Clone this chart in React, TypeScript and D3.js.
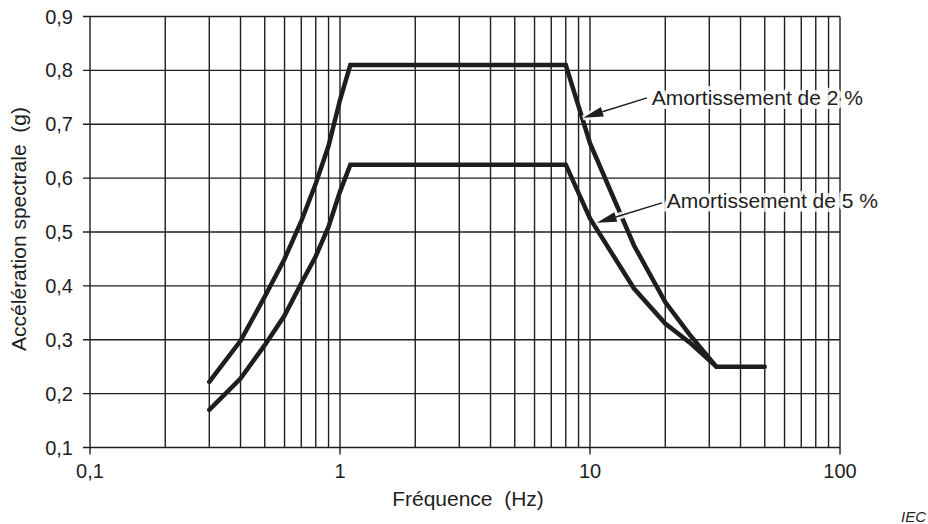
import React from "react";
import * as d3 from "d3";

// Data
const freq2 = [0.3, 0.4, 0.5, 0.6, 0.7, 0.8, 0.9, 1.0, 1.1, 8, 10, 15, 20, 25, 32, 50];
const accel2 = [0.222, 0.298, 0.38, 0.45, 0.52, 0.59, 0.66, 0.745, 0.81, 0.81, 0.665, 0.475, 0.37, 0.31, 0.25, 0.25];
const freq5 = [0.3, 0.4, 0.5, 0.6, 0.7, 0.8, 0.9, 1.0, 1.1, 8, 10, 15, 20, 25, 32];
const accel5 = [0.17, 0.228, 0.29, 0.345, 0.405, 0.455, 0.51, 0.575, 0.625, 0.625, 0.525, 0.395, 0.33, 0.295, 0.25];
const yTicks = [0.1, 0.2, 0.3, 0.4, 0.5, 0.6, 0.7, 0.8, 0.9];
const xMajor = [0.1, 1, 10, 100];
const xMajorLabels = ["0,1", "1", "10", "100"];
const labels = ["Amortissement de 2 %", "Amortissement de 5 %"];
// annotation anchors in data space: [label f, label v, arrow start f, v, arrow tip f, v]
const ann2 = [17.65, 0.7366, 16.9, 0.749, 9.4, 0.712];
const ann5 = [20.27, 0.545, 19.4, 0.554, 10.64, 0.517];

const W = 928, H = 524;
const FONT = "'Liberation Sans', Arial, Helvetica, sans-serif";
const INK = "#1e1e1e";

export default function App() {
  const x = d3.scaleLog().domain([0.1, 100]).range([90, 840]);
  const y = d3.scaleLinear().domain([0.1, 0.9]).range([447.5, 16.5]);

  const xGrid: number[] = [];
  for (let dec = 0.1; dec < 100; dec *= 10) {
    for (let k = 1; k <= 9; k++) xGrid.push(+(dec * k).toPrecision(3));
  }
  xGrid.push(100);

  const line = d3
    .line<[number, number]>()
    .x((d) => x(d[0]))
    .y((d) => y(d[1]));
  const s2 = freq2.map((f, i) => [f, accel2[i]] as [number, number]);
  const s5 = freq5.map((f, i) => [f, accel5[i]] as [number, number]);

  const fmt = (v: number) => v.toFixed(1).replace(".", ",");

  const arrow = (a: number[], key: string) => {
    const x1 = x(a[2]), y1 = y(a[3]), x2 = x(a[4]), y2 = y(a[5]);
    const dx = x2 - x1, dy = y2 - y1;
    const len = Math.hypot(dx, dy);
    const ux = dx / len, uy = dy / len;
    const hl = 20, hw = 5;
    const bx = x2 - ux * hl, by = y2 - uy * hl;
    const pts = [
      [x2, y2],
      [bx - uy * hw, by + ux * hw],
      [bx + uy * hw, by - ux * hw],
    ];
    return (
      <g key={key}>
        <line x1={x1} y1={y1} x2={bx} y2={by} stroke="#fff" strokeOpacity={0.85} strokeWidth={7} />
        <polygon points={pts.map((p) => p.join(",")).join(" ")} fill="#fff" fillOpacity={0.85} stroke="#fff" strokeOpacity={0.85} strokeWidth={5} />
        <line x1={x1} y1={y1} x2={bx} y2={by} stroke={INK} strokeWidth={1.5} />
        <polygon points={pts.map((p) => p.join(",")).join(" ")} fill={INK} />
      </g>
    );
  };

  const label = (a: number[], text: string, key: string) => (
    <text
      key={key}
      x={x(a[0])}
      y={y(a[1])}
      fontFamily={FONT}
      fontSize={21}
      fill={INK}
      stroke="#fff"
      strokeOpacity={0.85}
      strokeWidth={8}
      strokeLinejoin="round"
      paintOrder="stroke"
    >
      {text}
    </text>
  );

  return (
    <svg
      width={W}
      height={H}
      style={{ position: "absolute", left: 0, top: 0, background: "#fff" }}
    >
      <rect width={W} height={H} fill="#fff" />
      {/* horizontal grid + left ticks */}
      {yTicks.map((v) => (
        <line key={"h" + v} x1={83} x2={x(100)} y1={y(v)} y2={y(v)} stroke={INK} strokeWidth={1.4} />
      ))}
      {/* vertical grid */}
      {xGrid.map((f) => (
        <line
          key={"v" + f}
          x1={x(f)}
          x2={x(f)}
          y1={y(0.9)}
          y2={xMajor.includes(f) ? y(0.1) + 7 : y(0.1)}
          stroke={INK}
          strokeWidth={1.4}
        />
      ))}
      {/* y tick labels */}
      {yTicks.map((v) => (
        <text key={"yl" + v} x={73} y={y(v)} dy="0.35em" textAnchor="end" fontFamily={FONT} fontSize={20} fill={INK}>
          {fmt(v)}
        </text>
      ))}
      {/* x tick labels */}
      {xMajor.map((f, i) => (
        <text key={"xl" + f} x={x(f)} y={478} textAnchor="middle" fontFamily={FONT} fontSize={20} fill={INK}>
          {xMajorLabels[i]}
        </text>
      ))}
      {/* axis titles */}
      <text x={468} y={506} textAnchor="middle" fontFamily={FONT} fontSize={21} fill={INK} style={{ whiteSpace: "pre" }}>
        {"Fréquence  (Hz)"}
      </text>
      <text
        transform="translate(26,229) rotate(-90)"
        textAnchor="middle"
        fontFamily={FONT}
        fontSize={21}
        fill={INK}
        style={{ whiteSpace: "pre" }}
      >
        {"Accélération spectrale  (g)"}
      </text>
      {/* curves */}
      <path d={line(s2) || ""} fill="none" stroke={INK} strokeWidth={4.5} strokeLinejoin="miter" strokeLinecap="round" />
      <path d={line(s5) || ""} fill="none" stroke={INK} strokeWidth={4.5} strokeLinejoin="miter" strokeLinecap="round" />
      {/* annotations */}
      {label(ann2, labels[0], "l2")}
      {label(ann5, labels[1], "l5")}
      {arrow(ann2, "a2")}
      {arrow(ann5, "a5")}
      <text x={926} y={522} textAnchor="end" fontFamily={FONT} fontSize={15} fontStyle="italic" fill={INK}>
        IEC
      </text>
    </svg>
  );
}
